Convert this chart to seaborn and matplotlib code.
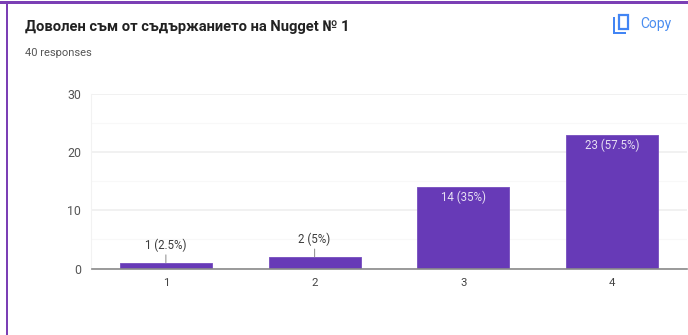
import matplotlib
matplotlib.use("Agg")
import matplotlib.pyplot as plt
from matplotlib.patches import Rectangle
import pandas as pd
import seaborn as sns

categories = ["1", "2", "3", "4"]
counts = [1, 2, 14, 23]
labels = ["1 (2.5%)", "2 (5%)", "14 (35%)", "23 (57.5%)"]
major_ticks = [0, 10, 20, 30]
minor_ticks = [5, 15, 25]
title = "Доволен съм от съдържанието на Nugget № 1"
subtitle = "40 responses"
copy_label = "Copy"

W, H = 688, 335
sns.set_theme(style="white")
plt.rcParams["font.family"] = ["Roboto", "DejaVu Sans"]

fig = plt.figure(figsize=(W / 100, H / 100), dpi=100, facecolor="white")
ax = fig.add_axes([91.5 / W, 1 - 268.5 / H, 595 / W, 174.5 / H])

df = pd.DataFrame({"cat": categories, "n": counts})
sns.barplot(data=df, x="cat", y="n", color="#673ab7", saturation=1, width=0.62,
            edgecolor="#7e57c2", linewidth=0.7, ax=ax, zorder=3)

ax.set_xlim(-0.5, 3.5)
ax.set_ylim(0, 30)
ax.set_xlabel("")
ax.set_ylabel("")
ax.set_yticks(major_ticks)
ax.set_yticks(minor_ticks, minor=True)
ax.grid(True, which="major", axis="y", color="#eeeeee", lw=1.1, zorder=0)
ax.grid(True, which="minor", axis="y", color="#f8f8f8", lw=0.8, zorder=0)
ax.tick_params(axis="both", which="both", length=0)
ax.tick_params(axis="y", labelsize=8.9, labelcolor="#555555", pad=7.5)
ax.tick_params(axis="x", labelsize=8.2, labelcolor="#444444", pad=7)
for side in ["top", "right"]:
    ax.spines[side].set_visible(False)
ax.spines["left"].set_color("#f2f2f2")
ax.spines["left"].set_linewidth(0.8)
ax.spines["bottom"].set_color("#8a8a8a")
ax.spines["bottom"].set_linewidth(1.2)
ax.spines["bottom"].set_zorder(4)

# value labels: small values sit above a leader line, large ones inside the bar
for i, (v, lab) in enumerate(zip(counts, labels)):
    if v < 5:
        ax.annotate(lab, xy=(i, v), xytext=(0, 8), textcoords="offset points",
                    ha="center", va="bottom", fontsize=8.3, color="#3c3c3c",
                    arrowprops=dict(arrowstyle="-", color="#888888", lw=0.7,
                                    shrinkA=0, shrinkB=0), zorder=5)
    else:
        ax.annotate(lab, xy=(i, v), xytext=(0, -2.6), textcoords="offset points",
                    ha="center", va="top", fontsize=8.3, color="#e6dff3", zorder=5)

# card chrome
fig.add_artist(Rectangle((0, 1 - 3.6 / H), 1, 2.2 / H, transform=fig.transFigure,
                         color="#7b3fb5", lw=0))
fig.add_artist(Rectangle((6 / W, 0), 2.2 / W, 1 - 2 / H, transform=fig.transFigure,
                         color="#7b3fb5", lw=0))

fig.text(25 / W, 1 - 27 / H, title, fontsize=10.65, fontweight="bold", color="#222222",
         va="center", ha="left")
fig.text(25 / W, 1 - 52.5 / H, subtitle, fontsize=8, color="#555555", va="center", ha="left")
fig.text(640 / W, 1 - 24 / H, copy_label, fontsize=10, color="#4a8df0", va="center", ha="left")

# copy icon
blue = "#4285f4"
fig.add_artist(Rectangle((618.5 / W, 1 - 28.5 / H), 9.5 / W, 14 / H, transform=fig.transFigure,
                         fill=False, ec=blue, lw=1.6))
fig.add_artist(Rectangle((613 / W, 1 - 33.5 / H), 1.8 / W, 16.5 / H, transform=fig.transFigure,
                         color=blue, lw=0))
fig.add_artist(Rectangle((613 / W, 1 - 33.5 / H), 13 / W, 1.8 / H, transform=fig.transFigure,
                         color=blue, lw=0))

fig.savefig("out.png", dpi=100, facecolor="white")
